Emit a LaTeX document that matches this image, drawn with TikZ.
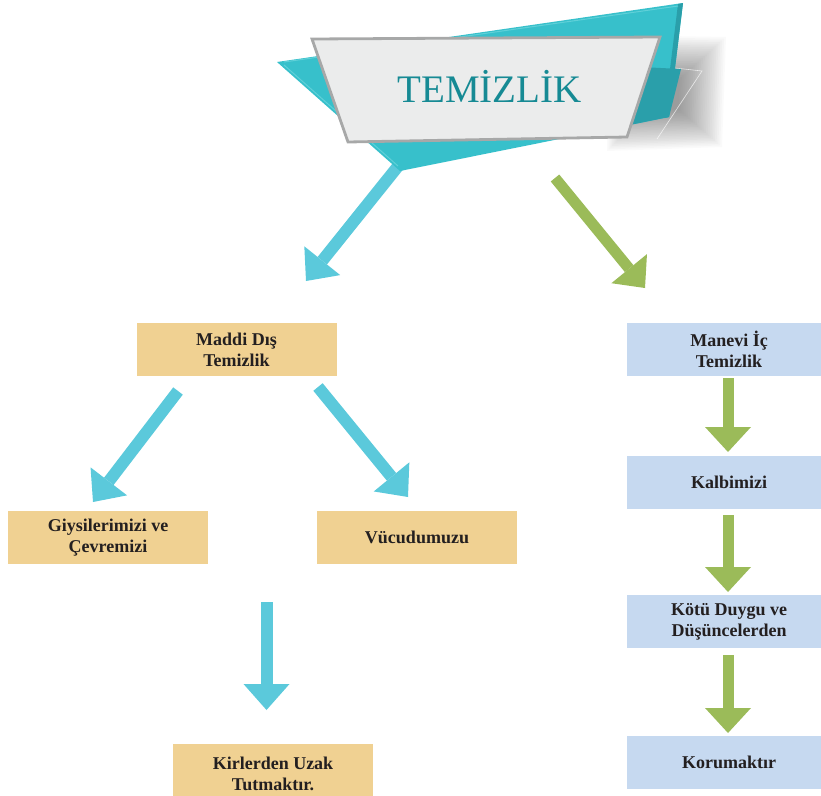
\documentclass[tikz,border=0pt]{standalone}
\usepackage{fontspec}
\setmainfont{Liberation Serif}
\usetikzlibrary{arrows.meta,calc}
\definecolor{tanc}{HTML}{F0D192}
\definecolor{bluec}{HTML}{C6D9F0}
\definecolor{arrblue}{HTML}{5BC9DB}
\definecolor{arrgreen}{HTML}{9BBB59}
\definecolor{teal1}{HTML}{37C0CB}
\definecolor{teal2}{HTML}{2A9FAA}
\definecolor{teal3}{HTML}{5FD0D8}
\definecolor{bannerfill}{HTML}{EBECEC}
\definecolor{bannerline}{HTML}{A7A8A8}
\definecolor{titlec}{HTML}{168A94}
\definecolor{txt}{HTML}{231F20}
\tikzset{
  box/.style={minimum width=200pt, minimum height=53pt, inner sep=0pt, align=center,
    font=\bfseries\fontsize{18}{21}\selectfont, text=txt},
  tanbox/.style={box, fill=tanc},
  bluebox/.style={box, fill=bluec, minimum width=204pt},
  barr/.style={draw=arrblue, line width=12pt, -{Triangle[length=26pt,width=46pt,line width=0pt]}},
  garr/.style={draw=arrgreen, line width=11pt, -{Triangle[length=25pt,width=46pt,line width=0pt]}},
  shadowlayer/.style={fill=black, opacity=0.02},
}
\begin{document}
\begin{tikzpicture}[x=1pt,y=-1pt]
\useasboundingbox (0,0) rectangle (821,795);
% soft shadow of the banner
\coordinate (shc) at (662,95);
\foreach \s in {1,0.97,...,0.28}{
  \fill[shadowlayer] ($(shc)+\s*(-55,-60)$) -- ($(shc)+\s*(64,-58)$) -- ($(shc)+\s*(60,52)$) -- ($(shc)+\s*(-55,56)$) -- cycle;
}
\draw[white, opacity=.7, line width=.6pt] (675,68) -- (702,71) -- (657,139);
% arrow going under the banner
\coordinate (a1s) at (399,165);
\coordinate (a1e) at (306,281);
\draw[barr] (a1s) -- (a1e);
% teal back shape
\fill[teal1] (277,62) -- (683,3) -- (669,117) -- (400,171) -- cycle;
\fill[teal2] (620,66) -- (681,69) -- (669,117) -- (620,127) -- cycle;
\fill[teal2] (678,4) -- (683,3) -- (669,117) -- (664,118) -- cycle;
\draw[teal3, line width=1pt] (284,62) -- (678,6);
\draw[teal3, line width=1pt] (284,65) -- (398,166);
% gray banner
\filldraw[fill=bannerfill, draw=bannerline, line width=2.8pt, line join=miter]
  (312,39) -- (660,37) -- (627,137) -- (348,142) -- cycle;
\node[anchor=base, text=titlec, font=\fontsize{39}{40}\selectfont, inner sep=0pt] (title) at (489.5,102) {TEMİZLİK};
% boxes
\node[tanbox] (maddi) at (236.5,349.5) {Maddi Dış\\Temizlik};
\node[bluebox] (manevi) at (729,349.5) {Manevi İç\\Temizlik};
\node[tanbox] (giysi) at (108,537.5) {Giysilerimizi ve\\Çevremizi};
\node[tanbox] (vucud) at (417,537.5) {Vücudumuzu};
\node[tanbox, minimum height=61pt] (kirler) at (273,774) {Kirlerden Uzak\\Tutmaktır.};
\node[bluebox] (kalb) at (729,482.5) {Kalbimizi};
\node[bluebox] (kotu) at (729,621.5) {Kötü Duygu ve\\Düşüncelerden};
\node[bluebox] (koru) at (729,762.5) {\raisebox{-3pt}{Korumaktır}};
% arrows
\coordinate (a2s) at (555,178);
\coordinate (a2e) at (645,288);
\draw[garr] (a2s) -- (a2e);
\coordinate (a3s) at (178,391);
\coordinate (a3e) at (93,502);
\draw[barr] (a3s) -- (a3e);
\coordinate (a4s) at (318,387);
\coordinate (a4e) at (408,497);
\draw[barr] (a4s) -- (a4e);
\coordinate (a5s) at (266.5,602);
\coordinate (a5e) at (266.5,710);
\draw[barr] (a5s) -- (a5e);
\coordinate (g1s) at (728,378);
\coordinate (g1e) at (728,452);
\draw[garr] (g1s) -- (g1e);
\coordinate (g2s) at (728,515);
\coordinate (g2e) at (728,592);
\draw[garr] (g2s) -- (g2e);
\coordinate (g3s) at (728,655);
\coordinate (g3e) at (728,733);
\draw[garr] (g3s) -- (g3e);
\end{tikzpicture}
\end{document}
